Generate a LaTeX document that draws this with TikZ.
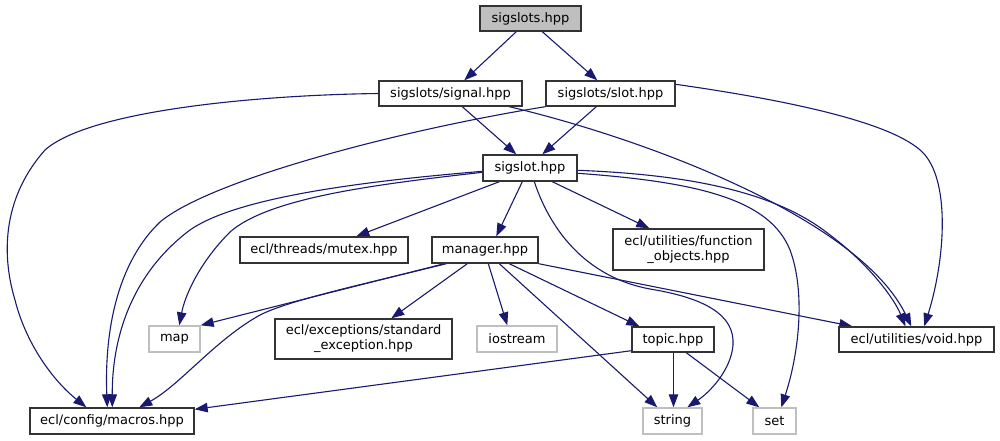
\documentclass[tikz,border=0pt]{standalone}
\usepackage{fontspec}
\setmainfont{DejaVu Sans}
\usetikzlibrary{arrows.meta}
\definecolor{edgec}{HTML}{191970}
\definecolor{grayb}{HTML}{BFBFBF}
\pgfdeclarelayer{bg}
\pgfsetlayers{bg,main}
\begin{document}
\begin{tikzpicture}[x=1pt,y=-1pt,
  box/.style={draw=black!80, line width=1.4pt, fill=white, inner sep=0pt,
    font=\fontsize{13}{15}\selectfont, align=center, anchor=center},
  ext/.style={box, draw=grayb},
  edge/.style={draw=edgec, line width=1.1pt, -{Triangle[length=13pt,width=9.5pt]}}]
\useasboundingbox (0,0) rectangle (1000,440);
% nodes
\node[box, fill=grayb, minimum width=101pt, minimum height=25pt] (sigslots) at (530.5,18.5) {sigslots.hpp};
\node[box, minimum width=143pt, minimum height=25pt] (signal) at (450.5,93.5) {sigslots/signal.hpp};
\node[box, minimum width=129pt, minimum height=25pt] (slot) at (610.5,93.5) {sigslots/slot.hpp};
\node[box, minimum width=94pt, minimum height=26pt] (sigslot) at (530,168) {sigslot.hpp};
\node[box, minimum width=168pt, minimum height=26pt] (mutex) at (324,250) {ecl/threads/mutex.hpp};
\node[box, minimum width=106pt, minimum height=26pt] (manager) at (485,250) {manager.hpp};
\node[box, minimum width=151pt, minimum height=41pt] (funcobj) at (688.5,249.5) {ecl/utilities/function\\\_objects.hpp};
\node[ext, minimum width=51pt, minimum height=26pt] (map) at (174.5,339) {map};
\node[box, minimum width=177pt, minimum height=40pt] (stdexc) at (363.5,339) {ecl/exceptions/standard\\\_exception.hpp};
\node[ext, minimum width=80pt, minimum height=26pt] (iostream) at (517,339) {iostream};
\node[box, minimum width=82pt, minimum height=25pt] (topic) at (673,339.5) {topic.hpp};
\node[box, minimum width=155pt, minimum height=25pt] (void) at (916.5,339.5) {ecl/utilities/void.hpp};
\node[box, minimum width=164pt, minimum height=26pt] (macros) at (112,421) {ecl/config/macros.hpp};
\node[ext, minimum width=59pt, minimum height=26pt] (string) at (672.5,421) {string};
\node[ext, minimum width=43pt, minimum height=26pt] (set) at (774.5,421) {set};
\begin{pgfonlayer}{bg}
\fill[white] (0,0) rectangle (1000,440);
% sigslots
\draw[edge] ([xshift=37pt]sigslots.south west) -- ([xshift=86pt]signal.north west);
\draw[edge] ([xshift=63pt]sigslots.south west) -- ([xshift=52pt]slot.north west);
% signal
\draw[edge] (signal.west) .. controls (260,95) and (90,110) .. (45,150)
  .. controls (5,195) and (0,250) .. (15,300)
  .. controls (25,340) and (50,378) .. ([xshift=57pt]macros.north west);
\draw[edge] ([xshift=84pt]signal.south west) -- ([xshift=34pt]sigslot.north west);
\draw[edge] ([xshift=131pt]signal.south west) .. controls (650,140) and (860,220) .. ([xshift=73pt]void.north west);
% slot
\draw[edge] (slot.south west) .. controls (400,130) and (210,180) .. (160,222)
  .. controls (110,270) and (105,350) .. ([xshift=78pt]macros.north west);
\draw[edge] ([xshift=51pt]slot.south west) -- ([xshift=60pt]sigslot.north west);
\draw[edge] ([yshift=-4pt]slot.north east) .. controls (800,102) and (900,125) .. (925,155)
  .. controls (950,185) and (945,260) .. ([xshift=86pt]void.north west);
% sigslot
\draw[edge] ([yshift=-17pt]sigslot.north west) .. controls (380,180) and (240,195) .. (190,230)
  .. controls (130,275) and (112,340) .. ([xshift=83pt]macros.north west);
\draw[edge] ([yshift=-18pt]sigslot.north west) .. controls (380,184) and (270,197) .. (230,232)
  .. controls (200,262) and (185,295) .. ([xshift=31pt]map.north west);
\draw[edge] ([xshift=17pt]sigslot.south west) -- ([xshift=117pt]mutex.north west);
\draw[edge] ([xshift=40pt]sigslot.south west) -- ([xshift=65pt]manager.north west);
\draw[edge] ([xshift=70pt]sigslot.south west) -- ([xshift=37pt]funcobj.north west);
\draw[edge] ([xshift=52pt]sigslot.south west) .. controls (552,235) and (590,278) .. (650,289)
  .. controls (705,298) and (735,315) .. (733,345)
  .. controls (731,370) and (710,392) .. ([xshift=45pt]string.north west);
\draw[edge] ([yshift=-19pt]sigslot.north east) .. controls (700,182) and (770,200) .. (790,250)
  .. controls (805,290) and (800,350) .. ([xshift=29pt]set.north west);
\draw[edge] ([yshift=-16pt]sigslot.north east) .. controls (700,175) and (780,195) .. (830,235)
  .. controls (870,265) and (895,300) .. ([xshift=67pt]void.north west);
% manager
\draw[edge] ([xshift=13pt]manager.south west) -- (map.north east);
\draw[edge] ([xshift=15pt]manager.south west) .. controls (360,285) and (290,300) .. (260,315)
  .. controls (215,340) and (180,385) .. ([xshift=110pt]macros.north west);
\draw[edge] ([xshift=36pt]manager.south west) -- ([xshift=117pt]stdexc.north west);
\draw[edge] ([xshift=57pt]manager.south west) -- ([xshift=31pt]iostream.north west);
\draw[edge] ([xshift=68pt]manager.south west) -- ([xshift=15pt]string.north west);
\draw[edge] ([xshift=78pt]manager.south west) -- ([xshift=8pt]topic.north west);
\draw[edge] (manager.south east) -- ([xshift=14pt]void.north west);
% topic
\draw[edge] ([yshift=2pt]topic.south west) -- ([yshift=-2pt]macros.north east);
\draw[edge] ([xshift=0.5pt]topic.south) -- ([xshift=0.5pt]topic.south |- string.north);
\draw[edge] ([xshift=55pt]topic.south west) -- ([xshift=7pt]set.north west);
\end{pgfonlayer}
\end{tikzpicture}
\end{document}
